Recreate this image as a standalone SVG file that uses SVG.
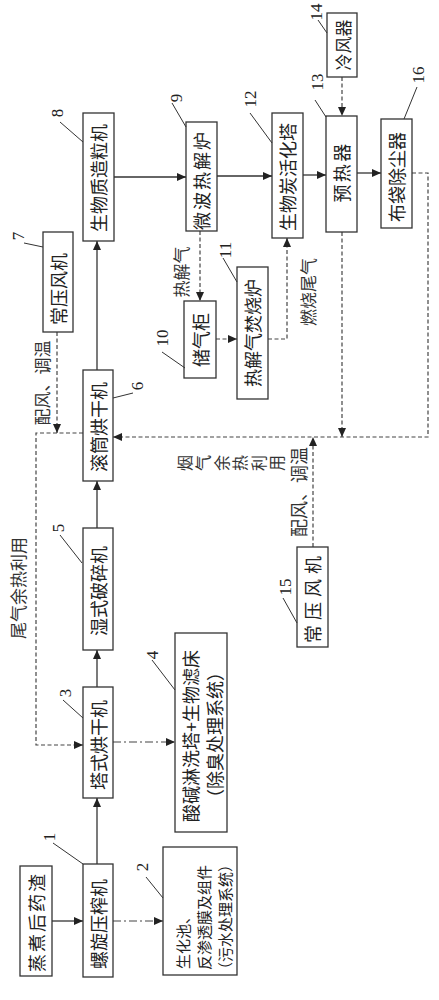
<svg xmlns="http://www.w3.org/2000/svg" width="439" height="1000" viewBox="0 0 439 1000">
<style>
.box{fill:#fff;stroke:#333;stroke-width:1.3}
.t{font-family:"Noto Sans CJK SC","Noto Sans",sans-serif;font-size:18px;fill:#222;text-anchor:middle;dominant-baseline:central}
.l{font-family:"Noto Sans CJK SC","Noto Sans",sans-serif;font-size:17px;fill:#333;text-anchor:middle;dominant-baseline:central}
.n{font-family:"Liberation Serif",serif;font-size:17px;fill:#222;text-anchor:middle;dominant-baseline:central}
.ld{stroke:#333;stroke-width:1;fill:none}
.s{stroke:#333;stroke-width:1.3;fill:none}
.d{stroke:#444;stroke-width:1.2;fill:none;stroke-dasharray:4 2.5}
.dd{stroke:#444;stroke-width:1.2;fill:none;stroke-dasharray:8 3 2 3}
</style>
<defs>
<marker id="a" markerUnits="userSpaceOnUse" markerWidth="10" markerHeight="8" refX="9" refY="4" orient="auto"><path d="M0,0 L9,4 L0,8 z" fill="#222"/></marker>
</defs>
<rect width="439" height="1000" fill="#fff"/>

<g id="connectors">
<line class="s" x1="52" y1="921" x2="83" y2="921" marker-end="url(#a)"/>
<line class="s" x1="97" y1="864" x2="97" y2="798" marker-end="url(#a)"/>
<line class="s" x1="97" y1="687" x2="97" y2="650" marker-end="url(#a)"/>
<line class="s" x1="97" y1="528" x2="97" y2="481" marker-end="url(#a)"/>
<line class="s" x1="97" y1="370" x2="97" y2="241" marker-end="url(#a)"/>
<line class="s" x1="114" y1="177" x2="186" y2="177" marker-end="url(#a)"/>
<line class="s" x1="217" y1="176" x2="272" y2="176" marker-end="url(#a)"/>
<line class="s" x1="303" y1="175" x2="326" y2="175" marker-end="url(#a)"/>
<line class="s" x1="357" y1="173" x2="381" y2="173" marker-end="url(#a)"/>
<line class="dd" x1="113" y1="921" x2="163" y2="921" marker-end="url(#a)"/>
<line class="dd" x1="113" y1="742" x2="175" y2="742" marker-end="url(#a)"/>
<line class="d" x1="200" y1="231" x2="200" y2="301" marker-end="url(#a)"/>
<line class="d" x1="216" y1="339" x2="237" y2="339" marker-end="url(#a)"/>
<path class="d" d="M268,339 H287 V238" marker-end="url(#a)"/>
<line class="d" x1="342" y1="77" x2="342" y2="116" marker-end="url(#a)"/>
<path class="d" d="M412,173 H428 V437 H113" marker-end="url(#a)"/>
<line class="d" x1="342" y1="232" x2="342" y2="437" marker-end="url(#a)"/>
<line class="d" x1="313" y1="547" x2="313" y2="437" marker-end="url(#a)"/>
<path class="d" d="M83,433 H36 V745 H83" marker-end="url(#a)"/>
<line class="d" x1="57" y1="332" x2="57" y2="433" marker-end="url(#a)"/>
</g>

<g id="labels">
<text class="l" transform="translate(41,383) rotate(-90)">配风、调温</text>
<text class="l" transform="translate(298,492) rotate(-90)" style="font-size:18px">配风、调温</text>
<text class="l" transform="translate(180,272) rotate(-90)">热解气</text>
<text class="l" transform="translate(307,292) rotate(-90)">燃烧尾气</text>
<text class="l" transform="translate(17,588) rotate(-90)">尾气余热利用</text>
<text x="191 209.4 227.8 246.2 264.6 283" y="471" rotate="-90" style="font-family:'Noto Sans CJK SC','Noto Sans',sans-serif;font-size:16px;fill:#333">烟气余热利用</text>
</g>

<g id="n0"><rect class="box" x="20" y="866" width="32" height="110"/><text class="t" transform="translate(36,922) rotate(-90)" style="letter-spacing:2px">蒸煮后药渣</text></g>
<g id="n1"><rect class="box" x="83" y="864" width="30" height="113"/><text class="t" transform="translate(98,924) rotate(-90)">螺旋压榨机</text>
<line class="ld" x1="53" y1="843" x2="83" y2="864"/><text class="n" transform="translate(49,837) rotate(-90)">1</text></g>
<g id="n2"><rect class="box" x="163" y="847" width="74" height="128"/>
<text class="t" transform="translate(182,969) rotate(-90)" style="text-anchor:start;font-size:15px">生化池、</text>
<text class="t" transform="translate(203,970) rotate(-90)" style="text-anchor:start;font-size:15px">反渗透膜及组件</text>
<text class="t" transform="translate(224,977) rotate(-90)" style="text-anchor:start;font-size:15px">（污水处理系统）</text>
<line class="ld" x1="146" y1="877" x2="163" y2="898"/><text class="n" transform="translate(142,867) rotate(-90)">2</text></g>
<g id="n3"><rect class="box" x="83" y="687" width="30" height="111"/><text class="t" transform="translate(98,745) rotate(-90)">塔式烘干机</text>
<line class="ld" x1="63" y1="700" x2="83" y2="718"/><text class="n" transform="translate(65,693) rotate(-90)">3</text></g>
<g id="n4"><rect class="box" x="175" y="633" width="52" height="199"/>
<text class="t" transform="translate(190,736) rotate(-90)">酸碱淋洗塔+生物滤床</text>
<text class="t" transform="translate(214,735) rotate(-90)">（除臭处理系统）</text>
<line class="ld" x1="152" y1="660" x2="175" y2="690"/><text class="n" transform="translate(152,655) rotate(-90)">4</text></g>
<g id="n5"><rect class="box" x="83" y="528" width="30" height="122"/><text class="t" transform="translate(98,591) rotate(-90)">湿式破碎机</text>
<line class="ld" x1="60" y1="535" x2="82" y2="563"/><text class="n" transform="translate(58,528) rotate(-90)">5</text></g>
<g id="n6"><rect class="box" x="83" y="370" width="30" height="111"/><text class="t" transform="translate(98,427) rotate(-90)">滚筒烘干机</text>
<line class="ld" x1="113" y1="398" x2="133" y2="393"/><text class="n" transform="translate(137,386) rotate(-90)">6</text></g>
<g id="n7"><rect class="box" x="43" y="232" width="30" height="100"/><text class="t" transform="translate(58,289) rotate(-90)">常压风机</text>
<line class="ld" x1="24" y1="243" x2="43" y2="247"/><text class="n" transform="translate(18,236) rotate(-90)">7</text></g>
<g id="n8"><rect class="box" x="83" y="113" width="31" height="128"/><text class="t" transform="translate(98,178) rotate(-90)">生物质造粒机</text>
<line class="ld" x1="60" y1="122" x2="83" y2="142"/><text class="n" transform="translate(57,113) rotate(-90)">8</text></g>
<g id="n9"><rect class="box" x="186" y="122" width="31" height="109"/><text class="t" transform="translate(201,180) rotate(-90)" style="letter-spacing:2px">微波热解炉</text>
<line class="ld" x1="172" y1="103" x2="186" y2="127"/><text class="n" transform="translate(176,98) rotate(-90)">9</text></g>
<g id="n10"><rect class="box" x="184" y="301" width="32" height="77"/><text class="t" transform="translate(200,340) rotate(-90)">储气柜</text>
<line class="ld" x1="162" y1="352" x2="185" y2="368"/><text class="n" transform="translate(162,338) rotate(-90)">10</text></g>
<g id="n11"><rect class="box" x="237" y="267" width="31" height="132"/><text class="t" transform="translate(252,333) rotate(-90)">热解气焚烧炉</text>
<line class="ld" x1="223" y1="258" x2="237" y2="282"/><text class="n" transform="translate(225,250) rotate(-90)">11</text></g>
<g id="n12"><rect class="box" x="272" y="113" width="31" height="125"/><text class="t" transform="translate(287,177) rotate(-90)">生物炭活化塔</text>
<line class="ld" x1="250" y1="113" x2="272" y2="143"/><text class="n" transform="translate(250,99) rotate(-90)">12</text></g>
<g id="n13"><rect class="box" x="326" y="116" width="31" height="116"/><text class="t" transform="translate(341,172) rotate(-90)" style="letter-spacing:2.4px">预热器</text>
<line class="ld" x1="315" y1="100" x2="326" y2="117"/><text class="n" transform="translate(317,82) rotate(-90)">13</text></g>
<g id="n14"><rect class="box" x="327" y="13" width="30" height="64"/><text class="t" transform="translate(342,45) rotate(-90)" style="font-size:17px">冷风器</text>
<line class="ld" x1="318" y1="20" x2="327" y2="33"/><text class="n" transform="translate(316,12) rotate(-90)">14</text></g>
<g id="n15"><rect class="box" x="297" y="547" width="31" height="100"/><text class="t" transform="translate(312,597) rotate(-90)" style="letter-spacing:5px">常压风机</text>
<line class="ld" x1="283" y1="598" x2="297" y2="623"/><text class="n" transform="translate(285,587) rotate(-90)">15</text></g>
<g id="n16"><rect class="box" x="381" y="119" width="31" height="109"/><text class="t" transform="translate(396,177) rotate(-90)">布袋除尘器</text>
<line class="ld" x1="417" y1="87" x2="404" y2="119"/><text class="n" transform="translate(418,75) rotate(-90)">16</text></g>
</svg>
